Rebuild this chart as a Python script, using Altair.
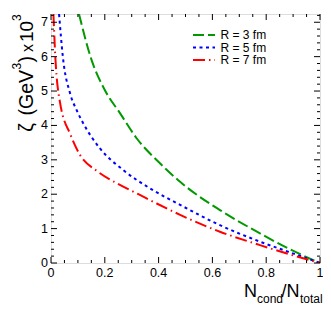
import altair as alt
import pandas as pd

# ---- data ----
series_names = ["R = 3 fm", "R = 5 fm", "R = 7 fm"]
series_colors = ["#009900", "#0000ff", "#ff0000"]
series_dash = [[11, 4], [3, 3.5], [12, 4, 1.5, 4]]

x_r3 = [0.104, 0.151, 0.2, 0.257, 0.319, 0.405, 0.48, 0.51, 0.628, 0.777, 0.888, 1.0]
y_r3 = [7.24, 5.9, 5.03, 4.35, 3.62, 2.9, 2.36, 2.17, 1.54, 0.86, 0.40, 0.0]

x_r5 = [0.03, 0.044, 0.071, 0.095, 0.12, 0.182, 0.269, 0.368, 0.48, 0.628, 0.777, 0.888, 1.0]
y_r5 = [7.24, 6.0, 4.93, 4.45, 4.06, 3.33, 2.70, 2.17, 1.69, 1.10, 0.62, 0.31, 0.0]

x_r7 = [0.009, 0.016, 0.033, 0.073, 0.108, 0.17, 0.244, 0.325, 0.393, 0.48, 0.628, 0.777, 0.888, 1.0]
y_r7 = [7.24, 6.0, 4.69, 3.72, 3.14, 2.68, 2.32, 2.0, 1.73, 1.40, 0.91, 0.52, 0.25, 0.0]

x_major = [0, 0.2, 0.4, 0.6, 0.8, 1.0]
x_labels = ["0", "0.2", "0.4", "0.6", "0.8", "1"]
y_major = [0, 1, 2, 3, 4, 5, 6, 7]
y_labels = ["0", "1", "2", "3", "4", "5", "6", "7"]
x_minor = [round(i * 0.05, 3) for i in range(21) if i % 4 != 0]
y_minor = [round(i * 0.2, 3) for i in range(37) if i % 5 != 0]

W, H = 269, 249
FONT = "Liberation Sans"

rows = []
for name, xs, ys in zip(series_names, [x_r3, x_r5, x_r7], [y_r3, y_r5, y_r7]):
    for a, b in zip(xs, ys):
        rows.append({"x": a, "y": b, "series": name})
df = pd.DataFrame(rows)

xscale = alt.Scale(domain=[0, 1], nice=False, zero=False)
yscale = alt.Scale(domain=[0, 7.24], nice=False, zero=False)

lines = alt.Chart(df).mark_line(interpolate="monotone", strokeWidth=2, clip=True).encode(
    x=alt.X("x:Q", scale=xscale, axis=None),
    y=alt.Y("y:Q", scale=yscale, axis=None),
    color=alt.Color("series:N", scale=alt.Scale(domain=series_names, range=series_colors), legend=None),
    strokeDash=alt.StrokeDash("series:N", scale=alt.Scale(domain=series_names, range=series_dash), legend=None),
    order=alt.Order("x:Q"),
)

def xticks(vals, length):
    d = pd.DataFrame({"t": vals})
    bottom = alt.Chart(d).mark_rule(color="black", strokeWidth=1).encode(
        x=alt.X("t:Q", scale=xscale, axis=None), y=alt.value(H), y2=alt.value(H - length))
    top = alt.Chart(d).mark_rule(color="black", strokeWidth=1).encode(
        x=alt.X("t:Q", scale=xscale, axis=None), y=alt.value(0), y2=alt.value(length))
    return [bottom, top]

def yticks(vals, length):
    d = pd.DataFrame({"t": vals})
    left = alt.Chart(d).mark_rule(color="black", strokeWidth=1).encode(
        y=alt.Y("t:Q", scale=yscale, axis=None), x=alt.value(0), x2=alt.value(length))
    right = alt.Chart(d).mark_rule(color="black", strokeWidth=1).encode(
        y=alt.Y("t:Q", scale=yscale, axis=None), x=alt.value(W), x2=alt.value(W - length))
    return [left, right]

ticks = xticks(x_major, 6) + xticks(x_minor, 3) + yticks(y_major, 6) + yticks(y_minor, 3)

xlab = alt.Chart(pd.DataFrame({"t": x_major, "lab": x_labels})).mark_text(
    font=FONT, fontSize=12.5, align="center", baseline="alphabetic", color="black").encode(
    x=alt.X("t:Q", scale=xscale, axis=None), y=alt.value(263), text="lab:N")
ylab = alt.Chart(pd.DataFrame({"t": y_major, "lab": y_labels})).mark_text(
    font=FONT, fontSize=12.5, align="right", baseline="middle", color="black").encode(
    y=alt.Y("t:Q", scale=yscale, axis=None), x=alt.value(-3), text="lab:N")

one = pd.DataFrame({"a": [0]})

legend_layers = []
for i, (name, col, dash) in enumerate(zip(series_names, series_colors, series_dash)):
    ly = 21 + i * 12.5
    legend_layers.append(alt.Chart(one).mark_rule(color=col, strokeWidth=2, strokeDash=dash).encode(
        x=alt.value(142), x2=alt.value(164), y=alt.value(ly)))
    legend_layers.append(alt.Chart(one).mark_text(
        text=name, font=FONT, fontSize=12, align="left", baseline="middle", color="black").encode(
        x=alt.value(169.5), y=alt.value(ly)))

# y-axis title, rotated, composed of pieces (superscripts smaller and raised)
ytitle_parts = [
    ("ζ", 19.5, 117.7, -18),
    ("(GeV", 19.5, 101.5, -18),
    ("3", 12, 55.5, -30),
    (")", 19.5, 48.5, -18),
    ("x", 16, 38.0, -18),
    ("10", 19, 28, -18),
    ("3", 12, 7, -30),
]
ytitle = [
    alt.Chart(one).mark_text(text=t, font=FONT, fontSize=fs, angle=270, align="left",
                             baseline="alphabetic", color="black").encode(
        x=alt.value(bx), y=alt.value(sy))
    for t, fs, sy, bx in ytitle_parts
]

xtitle_parts = [
    ("N", 18, 193, 282.7),
    ("cond", 12, 206, 288.7),
    ("/N", 18, 230.5, 282.7),
    ("total", 12, 249, 288.7),
]
xtitle = [
    alt.Chart(one).mark_text(text=t, font=FONT, fontSize=fs, align="left",
                             baseline="alphabetic", color="black").encode(
        x=alt.value(px), y=alt.value(py))
    for t, fs, px, py in xtitle_parts
]

chart = alt.layer(lines, *ticks, xlab, ylab, *legend_layers, *ytitle, *xtitle).properties(
    width=W, height=H,
    autosize=alt.AutoSizeParams(type="none"),
    padding={"left": 43, "top": 6, "right": 3, "bottom": 45},
).configure_view(stroke="black", strokeWidth=1).configure(background="white")

chart.save("out.html", embed_options={"renderer": "svg", "actions": False})
